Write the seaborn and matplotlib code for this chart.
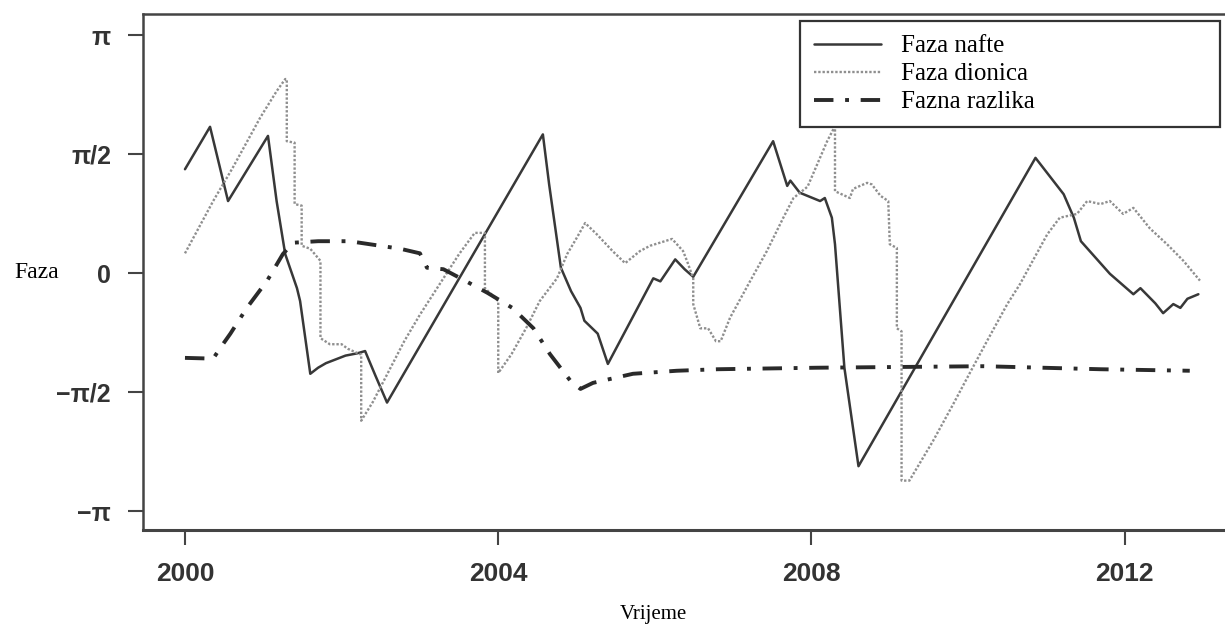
import numpy as np
import pandas as pd
import matplotlib
matplotlib.use("Agg")
import matplotlib.pyplot as plt
import seaborn as sns

# Faza nafte (puna linija)
nafte_god = [2000.00, 2000.32, 2000.55, 2001.06, 2001.17, 2001.28, 2001.43, 2001.47,
             2001.60, 2001.70, 2001.80, 2001.95, 2002.05, 2002.20, 2002.30, 2002.43,
             2002.58, 2004.57, 2004.65, 2004.80, 2004.93, 2005.05, 2005.10, 2005.27,
             2005.40, 2005.98, 2006.07, 2006.26, 2006.38, 2006.49, 2007.51, 2007.69,
             2007.73, 2007.85, 2008.11, 2008.17, 2008.26, 2008.30, 2008.42, 2008.60,
             2010.86, 2011.22, 2011.35, 2011.44, 2011.81, 2012.11, 2012.20, 2012.39,
             2012.49, 2012.62, 2012.71, 2012.80, 2012.94]
nafte_faza = [1.37, 1.93, 0.95, 1.81, 0.95, 0.25, -0.20, -0.37,
              -1.33, -1.25, -1.19, -1.13, -1.09, -1.06, -1.03, -1.35,
              -1.71, 1.83, 1.17, 0.07, -0.24, -0.46, -0.63, -0.80,
              -1.20, -0.07, -0.11, 0.18, 0.05, -0.05, 1.74, 1.15,
              1.22, 1.06, 0.95, 0.99, 0.73, 0.38, -1.25, -2.55,
              1.52, 1.04, 0.73, 0.42, -0.01, -0.28, -0.20, -0.40,
              -0.53, -0.41, -0.46, -0.34, -0.28]

# Faza dionica (tockasta linija)
dionice_god = [2000.00, 2000.36, 2000.61, 2000.96, 2001.17, 2001.28, 2001.30, 2001.30,
               2001.40, 2001.40, 2001.49, 2001.49, 2001.60, 2001.73, 2001.73, 2001.85,
               2002.00, 2002.08, 2002.23, 2002.25, 2002.25, 2002.40, 2002.60, 2002.80,
               2003.00, 2003.30, 2003.50, 2003.70, 2003.83, 2003.83, 2004.00, 2004.00,
               2004.17, 2004.36, 2004.53, 2004.75, 2004.88, 2005.00, 2005.11, 2005.26,
               2005.46, 2005.62, 2005.81, 2005.94, 2006.22, 2006.36, 2006.41, 2006.49,
               2006.49, 2006.58, 2006.68, 2006.78, 2006.84, 2006.96, 2007.22, 2007.43,
               2007.64, 2007.77, 2007.95, 2008.20, 2008.28, 2008.30, 2008.30, 2008.49,
               2008.53, 2008.71, 2008.77, 2008.88, 2008.98, 2009.00, 2009.09, 2009.09,
               2009.15, 2009.15, 2009.25, 2009.55, 2009.81, 2009.99, 2010.24, 2010.50,
               2010.66, 2011.01, 2011.17, 2011.39, 2011.52, 2011.69, 2011.81, 2011.98,
               2012.11, 2012.32, 2012.54, 2012.75, 2012.96]
dionice_faza = [0.26, 0.95, 1.39, 2.05, 2.40, 2.56, 2.56, 1.74,
                1.72, 0.91, 0.89, 0.36, 0.32, 0.16, -0.86, -0.94,
                -0.94, -1.00, -1.07, -1.07, -1.95, -1.70, -1.30, -0.90,
                -0.55, -0.07, 0.25, 0.53, 0.53, -0.20, -0.37, -1.32,
                -1.07, -0.72, -0.37, -0.07, 0.25, 0.46, 0.66, 0.51,
                0.29, 0.13, 0.29, 0.36, 0.45, 0.29, 0.16, -0.07,
                -0.41, -0.73, -0.73, -0.90, -0.90, -0.59, -0.10, 0.29,
                0.73, 0.99, 1.14, 1.74, 1.90, 1.90, 1.08, 0.99,
                1.11, 1.19, 1.17, 1.02, 0.95, 0.38, 0.33, -0.73,
                -0.77, -2.74, -2.74, -2.22, -1.73, -1.38, -0.90, -0.41,
                -0.15, 0.51, 0.73, 0.78, 0.95, 0.91, 0.95, 0.78,
                0.86, 0.59, 0.38, 0.16, -0.10]

# Fazna razlika (crta-tocka)
razlika_god = [2000.00, 2000.36, 2000.45, 2000.58, 2000.79, 2001.05, 2001.25, 2001.38,
               2001.70, 2002.10, 2002.75, 2003.00, 2003.09, 2003.30, 2003.52, 2003.86,
               2004.18, 2004.45, 2004.66, 2004.92, 2005.05, 2005.21, 2005.72, 2006.28,
               2006.80, 2008.07, 2010.20, 2011.69, 2012.83]
razlika_faza = [-1.12, -1.13, -0.99, -0.80, -0.46, -0.10, 0.25, 0.40,
                0.42, 0.42, 0.32, 0.26, 0.07, 0.05, -0.07, -0.26,
                -0.46, -0.73, -1.07, -1.42, -1.53, -1.45, -1.33, -1.29,
                -1.27, -1.25, -1.23, -1.27, -1.29]

x_tickovi = [2000, 2004, 2008, 2012]
y_tickovi = [-np.pi, -np.pi / 2, 0, np.pi / 2, np.pi]
y_oznake = ["\u2212\u03c0", "\u2212\u03c0/2", "0", "\u03c0/2", "\u03c0"]

sns.set_theme(style="ticks")
plt.rcParams['font.family'] = ['Liberation Serif', 'DejaVu Serif']

fig = plt.figure(figsize=(12.25, 6.3), dpi=100)
ax = fig.add_axes([143 / 1225, 1 - 530 / 630, (1225 - 143) / 1225, (530 - 14) / 630])

sns.lineplot(x=nafte_god, y=nafte_faza, estimator=None, sort=False, ax=ax,
             color="#383838", linewidth=1.8, label="Faza nafte")
sns.lineplot(x=dionice_god, y=dionice_faza, estimator=None, sort=False, ax=ax,
             color="#8f8f8f", linewidth=1.7, label="Faza dionica")
sns.lineplot(x=razlika_god, y=razlika_faza, estimator=None, sort=False, ax=ax,
             color="#2a2a2a", linewidth=2.8, label="Fazna razlika")

ax.lines[1].set_dashes([1, 0.8])
ax.lines[2].set_dashes([5, 3, 1, 3])

ax.set_xlim(1999.464, 2013.28)
ax.set_ylim(-3.392, 3.419)
ax.set_xticks(x_tickovi)
ax.set_yticks(y_tickovi)
ax.set_yticklabels(y_oznake)

for lab in ax.get_xticklabels() + ax.get_yticklabels():
    lab.set_family(['Liberation Sans', 'DejaVu Sans'])
    lab.set_fontweight('bold')
    lab.set_color('#333333')
for lab in ax.get_xticklabels():
    lab.set_fontsize(19)
for lab in ax.get_yticklabels():
    lab.set_fontsize(18)

ax.tick_params(axis='both', direction='out', length=11, width=1.5, color='#444444', pad=12)

for s in ['left', 'bottom', 'top']:
    ax.spines[s].set_color('#444444')
ax.spines['left'].set_linewidth(1.8)
ax.spines['bottom'].set_linewidth(2.2)
ax.spines['top'].set_linewidth(1.8)
ax.spines['right'].set_visible(False)

ax.set_xlabel("Vrijeme", fontsize=15, color='black')
ax.xaxis.set_label_coords((653 - 143) / 1082, -(605 - 530) / 516)
ax.set_ylabel("Faza", fontsize=17, rotation=0, color='black', va='center')
ax.yaxis.set_label_coords(-(143 - 37) / 1082, (530 - 272) / 516)

leg = ax.legend(loc='upper left', bbox_to_anchor=(0.607, 0.785, 0.388, 0.201),
                mode='expand', borderaxespad=0, fontsize=18, handlelength=2.7,
                handletextpad=0.8, labelspacing=0.22, borderpad=0.55,
                fancybox=False, framealpha=1, edgecolor='#333333')
leg.get_frame().set_linewidth(1.6)
for t in leg.get_texts():
    t.set_color('black')

fig.savefig("out.png", dpi=100, facecolor='white')
